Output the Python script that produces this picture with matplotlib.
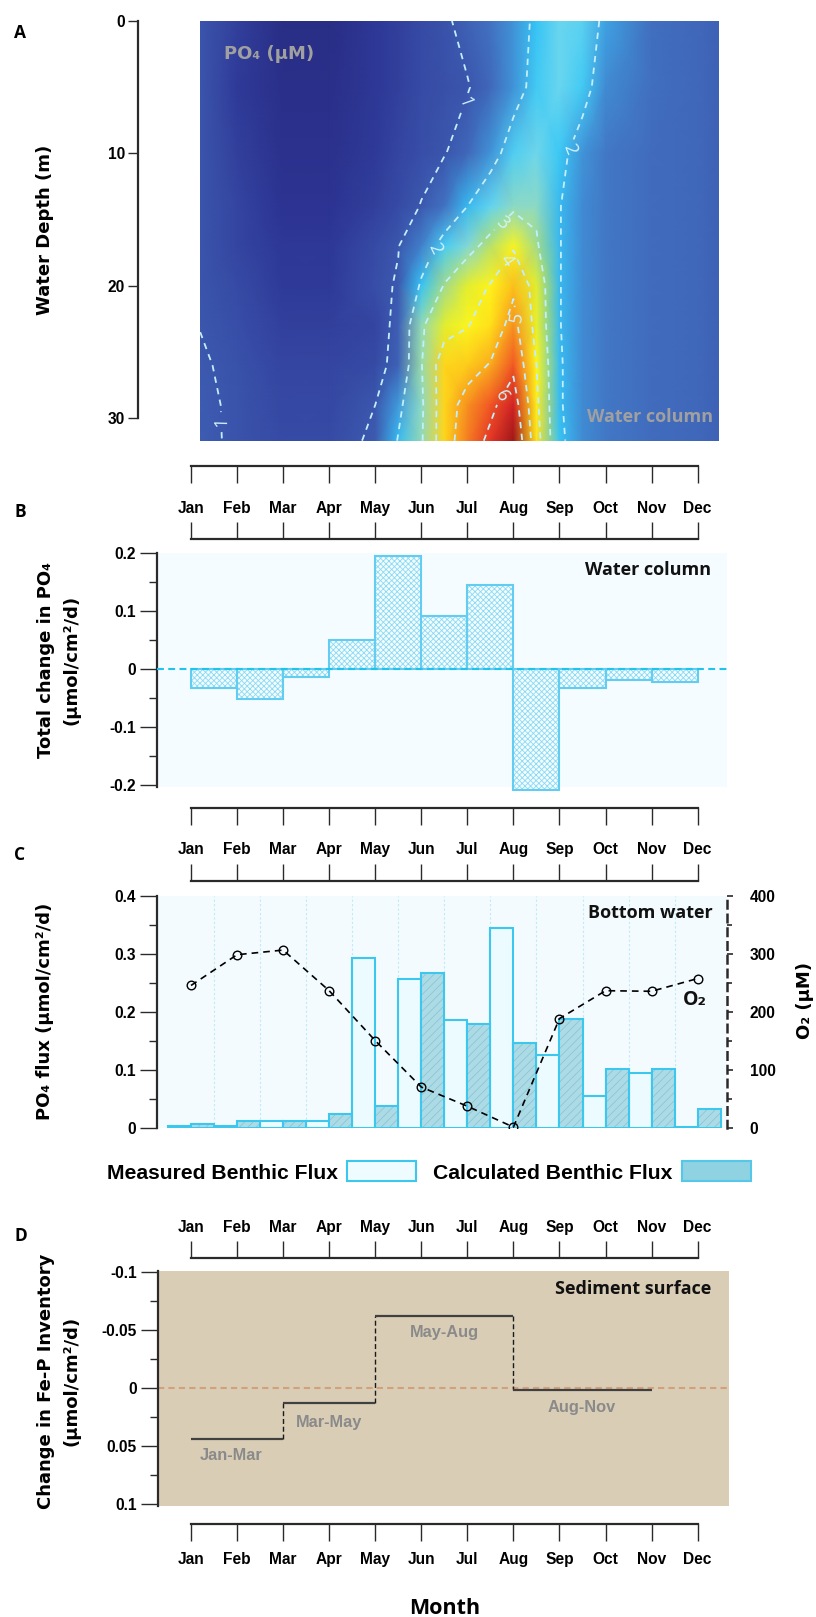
import numpy as np
import matplotlib
matplotlib.use('Agg')
import matplotlib.pyplot as plt
from matplotlib.colors import LinearSegmentedColormap, Normalize
from matplotlib.patches import Patch
from matplotlib.ticker import FixedLocator, FuncFormatter

plt.rcParams['font.family'] = ['Liberation Sans', 'DejaVu Sans']
plt.rcParams['font.weight'] = 'bold'
plt.rcParams['axes.unicode_minus'] = False
plt.rcParams['hatch.linewidth'] = 0.6

# ---------------------------------------------------------------- data
months = ['Jan', 'Feb', 'Mar', 'Apr', 'May', 'Jun', 'Jul', 'Aug', 'Sep', 'Oct', 'Nov', 'Dec']

po4_month_pos = [0.2, 1, 2, 3, 4, 4.5, 5, 5.5, 6, 6.5, 7, 7.5, 8, 8.5, 9, 10, 11, 11.46]
po4_depth_m = [0, 5, 10, 14, 17, 20, 23, 26, 29, 31.7]
po4_um = [
    [0.97, 0.70, 0.40, 0.40, 0.60, 0.70, 0.80, 0.90, 1.20, 1.50, 1.75, 2.10, 2.50, 2.40, 1.85, 1.45, 1.30, 1.20],
    [0.97, 0.65, 0.45, 0.45, 0.60, 0.70, 0.80, 0.88, 0.96, 1.30, 1.75, 2.20, 2.50, 2.20, 1.70, 1.45, 1.30, 1.20],
    [0.97, 0.70, 0.50, 0.50, 0.65, 0.75, 0.85, 0.97, 1.30, 1.75, 2.30, 2.55, 2.15, 1.75, 1.55, 1.40, 1.30, 1.20],
    [0.97, 0.75, 0.55, 0.55, 0.70, 0.80, 1.02, 1.50, 2.00, 2.45, 2.85, 2.85, 2.02, 1.70, 1.55, 1.40, 1.30, 1.20],
    [0.97, 0.75, 0.60, 0.60, 0.80, 0.98, 1.60, 2.25, 2.75, 3.25, 3.90, 3.10, 2.02, 1.70, 1.55, 1.40, 1.30, 1.20],
    [0.97, 0.80, 0.65, 0.65, 0.85, 1.05, 2.10, 3.05, 3.60, 4.05, 4.85, 3.60, 2.02, 1.70, 1.55, 1.40, 1.30, 1.20],
    [0.99, 0.85, 0.70, 0.70, 0.75, 1.15, 2.90, 3.60, 3.95, 4.50, 5.30, 3.70, 2.02, 1.70, 1.55, 1.40, 1.30, 1.20],
    [1.05, 0.90, 0.75, 0.75, 0.80, 1.20, 2.95, 4.60, 4.70, 5.05, 5.80, 4.00, 2.05, 1.70, 1.55, 1.40, 1.30, 1.20],
    [1.10, 0.92, 0.78, 0.78, 1.00, 1.80, 2.85, 4.60, 5.30, 5.80, 6.50, 4.20, 2.05, 1.70, 1.55, 1.40, 1.30, 1.20],
    [1.10, 0.93, 0.80, 0.80, 1.08, 2.05, 2.90, 4.60, 5.50, 6.20, 7.00, 4.40, 2.10, 1.70, 1.55, 1.40, 1.30, 1.20],
]
po4_levels = [1, 2, 3, 4, 5, 6]
depth_ticks = [0, 10, 20, 30]

# Panel B: total change in water-column PO4 for each interval (Jan-Feb ... Nov-Dec)
wc_change = [-0.033, -0.052, -0.014, 0.050, 0.196, 0.092, 0.145, -0.209, -0.032, -0.018, -0.023]
b_yticks = [-0.2, -0.1, 0, 0.1, 0.2]
b_yminor = [-0.15, -0.05, 0.05, 0.15]

# Panel C: benthic PO4 fluxes and bottom-water O2
flux_measured = [0.0035, 0.003, 0.011, 0.011, 0.293, 0.257, 0.186, 0.344, 0.125, 0.054, 0.095, 0.001]
flux_calculated = [0.007, 0.012, 0.011, 0.024, 0.037, 0.266, 0.178, 0.146, 0.187, 0.101, 0.101, 0.032]
o2_um = [245, 298, 306, 236, 150, 70, 37, 1, 188, 236, 235, 257]
c_yticks = [0, 0.1, 0.2, 0.3, 0.4]
c_yminor = [0.05, 0.15, 0.25, 0.35]
o2_ticks = [0, 100, 200, 300, 400]
o2_minor = [50, 150, 250, 350]

# Panel D: change in Fe-P inventory per period
fep_periods = ['Jan-Mar', 'Mar-May', 'May-Aug', 'Aug-Nov']
fep_start = [0, 2, 4, 7]
fep_end = [2, 4, 7, 10]
fep_change = [0.0437, 0.0129, -0.0623, 0.002]
d_yticks = [-0.1, -0.05, 0, 0.05, 0.1]
d_yminor = [-0.075, -0.025, 0.025, 0.075]

# ---------------------------------------------------------------- layout helpers
W, H = 816, 1617
fig = plt.figure(figsize=(W / 100, H / 100), dpi=100)

def add_ax(l, t, r, b):
    return fig.add_axes([l / W, 1 - b / H, (r - l) / W, (b - t) / H])

M0, MPX = 191.0, 46.06          # pixel of Jan, pixels per month
def xl(l, r):
    return ((l - M0) / MPX, (r - M0) / MPX)

PX = 0.72
SPINE = '#2a2a2a'
TICKFS = 11.2
fmt_g = FuncFormatter(lambda v, p: f'{v:g}')
REGION_FONT = ['Open Sans', 'DejaVu Sans']

def left_axis(ax, major, minor):
    for s in ('top', 'right', 'bottom'):
        ax.spines[s].set_visible(False)
    ax.spines['left'].set_linewidth(1.6)
    ax.spines['left'].set_color(SPINE)
    ax.yaxis.set_major_locator(FixedLocator(major))
    ax.yaxis.set_minor_locator(FixedLocator(minor))
    ax.yaxis.set_major_formatter(fmt_g)
    ax.set_xticks([])
    ax.tick_params(axis='y', which='major', length=17 * PX, width=1.0, color=SPINE,
                   labelsize=TICKFS, pad=3)
    ax.tick_params(axis='y', which='minor', length=8 * PX, width=1.0, color=SPINE)

def ylabel(ax, text, px, py, L, T, R, B, ls=1.5):
    ax.set_ylabel(text, fontfamily='DejaVu Sans', fontsize=13, fontweight='bold',
                  va='center', ha='center', linespacing=ls)
    ax.yaxis.set_label_coords((px - L) / (R - L), (B - py) / (B - T))

def ruler(y, up, labels, pad=4.5):
    side = 'top' if up else 'bottom'
    ax = add_ax(157, y, 727, y + 1) if up else add_ax(157, y - 1, 727, y)
    ax.set_xlim(*xl(157, 727))
    ax.set_ylim(0, 1)
    ax.patch.set_visible(False)
    for s in ax.spines.values():
        s.set_visible(False)
    sp = ax.spines[side]
    sp.set_visible(True)
    sp.set_bounds(0, len(months) - 1)
    sp.set_linewidth(1.6)
    sp.set_color(SPINE)
    ax.set_yticks([])
    ax.set_xticks(range(len(months)))
    ax.set_xticklabels(months if labels else [''] * len(months))
    ax.tick_params(axis='x', direction='out', length=17 * PX, width=1.0, color=SPINE,
                   labelsize=TICKFS, pad=pad,
                   top=up, labeltop=up and labels, bottom=not up, labelbottom=(not up) and labels)
    return ax

# ---------------------------------------------------------------- panel A
stops = [(0.3, '#272b7f'), (0.55, '#2c3392'), (0.8, '#374ca6'), (1.0, '#3c58ae'),
         (1.5, '#4272c2'), (1.85, '#3fa3e3'), (2.1, '#36c6f6'), (2.5, '#6ad6ef'),
         (2.8, '#88d8d0'), (3.1, '#a6dc84'), (3.6, '#e2ee30'), (4.0, '#fff61a'),
         (4.5, '#ffe01a'), (5.0, '#fbb01d'), (5.5, '#f57d22'), (6.0, '#ee4026'),
         (6.5, '#d52226'), (7.2, '#8a1316')]
cmap = LinearSegmentedColormap.from_list('po4', [((v - 0.3) / 6.9, c) for v, c in stops])

A_L, A_T, A_R, A_B = 200.3, 21, 719, 440.7
axA = add_ax(A_L, A_T, A_R, A_B)
Xg, Yg = np.meshgrid(po4_month_pos, po4_depth_m)
Zg = np.array(po4_um)
axA.pcolormesh(Xg, Yg, Zg, shading='gouraud', cmap=cmap, norm=Normalize(0.3, 7.2), rasterized=True)
cs = axA.contour(Xg, Yg, Zg, levels=po4_levels, colors='#c3eefb', linewidths=1.3)
cs.set_linestyle((0, (3.5, 3)))
label_pos = [(5.98, 6.2), (0.62, 30.3), (5.36, 17.3), (8.19, 9.6), (6.9, 15.8),
             (6.95, 18.3), (6.99, 22.4), (6.88, 28.6)]
clabels = axA.clabel(cs, fmt='%d', fontsize=13, colors='#d2f3fc', inline=True, manual=label_pos)
for t in clabels:
    t.set_fontweight('normal')
    t.set_family(REGION_FONT)
axA.set_xlim(*xl(A_L, A_R))
axA.set_ylim(31.7, 0)
for s in ('top', 'right', 'bottom'):
    axA.spines[s].set_visible(False)
axA.spines['left'].set_position(('outward', 45))
axA.spines['left'].set_bounds(0, 30)
axA.spines['left'].set_linewidth(1.6)
axA.spines['left'].set_color(SPINE)
axA.set_yticks(depth_ticks)
axA.set_xticks([])
axA.tick_params(axis='y', length=10 * PX, width=1.0, color=SPINE, labelsize=TICKFS, pad=2)
ylabel(axA, 'Water Depth (m)', 45, 230, A_L, A_T, A_R, A_B)
axA.text(0.046, 0.922, 'PO₄ (µM)', transform=axA.transAxes, color='#a0a0a0',
         fontfamily='DejaVu Sans', fontsize=13, fontweight='bold', ha='left', va='center')
axA.text(0.988, 0.056, 'Water column', transform=axA.transAxes, color='#a0a0a0',
         fontfamily=REGION_FONT, fontsize=13, fontweight='bold', ha='right', va='center')

# ---------------------------------------------------------------- rulers
ruler(466, False, False)
ruler(539, True, True, pad=4.4)
ruler(808, False, False)
ruler(881, True, True, pad=5.1)
ruler(1258, True, True, pad=4.4)
ruler(1524, False, True, pad=7.7)

# ---------------------------------------------------------------- panel B
B_L, B_T, B_R, B_B = 157, 552.7, 727, 786.7
axB = add_ax(B_L, B_T, B_R, B_B)
axB.set_facecolor('#f5fcff')
xb = np.arange(len(wc_change))
axB.bar(xb, wc_change, width=1, align='edge', color='#f4fcff', edgecolor='#8adaf4',
        hatch='xxxxxx', linewidth=0, clip_on=False, zorder=2)
axB.bar(xb, wc_change, width=1, align='edge', fill=False, edgecolor='#62cdf0',
        linewidth=1.5, clip_on=False, zorder=3)
axB.axhline(0, color='#1fc3ee', lw=1.5, ls=(0, (3.3, 2.1)), zorder=4)
axB.set_xlim(*xl(B_L, B_R))
axB.set_ylim(-0.203, 0.201)
left_axis(axB, b_yticks, b_yminor)
ylabel(axB, 'Total change in PO₄\n(µmol/cm²/d)', 58.5, 660, B_L, B_T, B_R, B_B)
axB.text(0.973, 0.926, 'Water column', transform=axB.transAxes, fontfamily=REGION_FONT,
         fontsize=13, fontweight='bold', ha='right', va='center', color='#111111')

# ---------------------------------------------------------------- panel C
C_L, C_T, C_R, C_B = 157, 895.5, 727, 1127.7
axC = add_ax(C_L, C_T, C_R, C_B)
axC.set_facecolor('#f3fbfe')
xc = np.arange(len(months))
for xv in xc[:-1] + 0.5:
    axC.axvline(xv, color='#bfeaf7', lw=0.8, ls=(0, (2, 2)), zorder=0.5)
axC.bar(xc - 0.5, flux_measured, width=0.5, align='edge', facecolor='#ecfbff',
        edgecolor='#3cc8ee', linewidth=1.5, zorder=2)
axC.bar(xc, flux_calculated, width=0.5, align='edge', facecolor='#acdbe6',
        edgecolor='#8ac6d5', hatch='////', linewidth=0, zorder=2)
axC.bar(xc, flux_calculated, width=0.5, align='edge', fill=False,
        edgecolor='#3cc8ee', linewidth=1.5, zorder=3)
axC.set_xlim(*xl(C_L, C_R))
axC.set_ylim(0, 0.4)
left_axis(axC, c_yticks, c_yminor)
ylabel(axC, 'PO₄ flux (µmol/cm²/d)', 45.5, 1011.5, C_L, C_T, C_R, C_B)
axC.text(0.975, 0.924, 'Bottom water', transform=axC.transAxes, fontfamily=REGION_FONT,
         fontsize=13, fontweight='bold', ha='right', va='center', color='#111111')

axO = axC.twinx()
axO.plot(xc, o2_um, ls=(0, (4, 3)), color='black', lw=1.2, marker='o', ms=6.2,
         mfc='none', mec='black', mew=1.0, zorder=5)
axO.set_ylim(0, 400)
axO.set_xlim(*xl(C_L, C_R))
for s in ('top', 'left', 'bottom'):
    axO.spines[s].set_visible(False)
axO.spines['right'].set_linestyle((0, (3, 2.5)))
axO.spines['right'].set_linewidth(1.8)
axO.spines['right'].set_color(SPINE)
axO.spines['right'].set_bounds(0, 400)
axO.yaxis.set_major_locator(FixedLocator(o2_ticks))
axO.yaxis.set_minor_locator(FixedLocator(o2_minor))
axO.yaxis.set_major_formatter(fmt_g)
axO.tick_params(axis='y', which='major', length=6 * PX, width=1.2, color=SPINE,
                labelsize=TICKFS, pad=12)
axO.tick_params(axis='y', which='minor', length=5 * PX, width=1.2, color=SPINE)
axO.set_ylabel('O₂ (µM)', fontfamily='DejaVu Sans', fontsize=13, fontweight='bold',
               rotation=90, va='center', ha='center')
axO.yaxis.set_label_coords((805 - C_L) / (C_R - C_L), (C_B - 1000) / (C_B - C_T))
axO.text((683 - C_L) / (C_R - C_L), (C_B - 1000) / (C_B - C_T), 'O₂', transform=axO.transAxes,
         fontfamily=REGION_FONT, fontsize=14, fontweight='bold', ha='left', va='center',
         color='#111111')

# legend
handles = [Patch(facecolor='#effcff', edgecolor='#3cc8ee', linewidth=1.5),
           Patch(facecolor='#8fd2e2', edgecolor='#55c8ea', linewidth=1.5)]
fig.legend(handles, ['Measured Benthic Flux', 'Calculated Benthic Flux'], ncol=2,
           markerfirst=False, frameon=False, prop={'size': 15.2, 'weight': 'bold'},
           handlelength=3.3, handleheight=1.07, handletextpad=0.43, columnspacing=0.8,
           loc='center left', bbox_to_anchor=(106.7 / W, 1 - 1172 / H),
           borderpad=0, borderaxespad=0)

# ---------------------------------------------------------------- panel D
D_L, D_T, D_R, D_B = 158, 1271, 729.3, 1506
axD = add_ax(D_L, D_T, D_R, D_B)
axD.set_facecolor('#d9cdb6')
axD.axhline(0, color='#d3a07b', lw=1.5, ls=(0, (3, 2)), zorder=1)
axD.hlines(fep_change, fep_start, fep_end, colors='#404040', lw=1.6, zorder=3)
axD.vlines(fep_start[1:], fep_change[:-1], fep_change[1:], colors='#1a1a1a', lw=1.0,
           linestyles=[(0, (3.6, 2))], zorder=2)
label_xy = [(0.87, 0.058), (3.0, 0.0294), (5.5, -0.0477), (8.49, 0.0171)]
for name, (lx, ly) in zip(fep_periods, label_xy):
    axD.text(lx, ly, name, color='#8a8a8a', fontsize=11.8, fontweight='bold',
             ha='center', va='center')
axD.set_xlim(*xl(D_L, D_R))
axD.set_ylim(0.1015, -0.1006)
left_axis(axD, d_yticks, d_yminor)
ylabel(axD, 'Change in Fe-P Inventory\n(µmol/cm²/d)', 58.5, 1381, D_L, D_T, D_R, D_B)
axD.text(0.968, 0.922, 'Sediment surface', transform=axD.transAxes, fontfamily=REGION_FONT,
         fontsize=13, fontweight='bold', ha='right', va='center', color='#111111')

# ---------------------------------------------------------------- panel letters & Month
for letter, py in zip('ABCD', [33, 512, 855, 1236]):
    fig.text(14 / W, 1 - py / H, letter, fontfamily=REGION_FONT, fontsize=12.5,
             fontweight='bold', ha='left', va='center')
fig.text(444.5 / W, 1 - 1608 / H, 'Month', fontfamily=REGION_FONT, fontsize=15.5,
         fontweight='bold', ha='center', va='center')

fig.savefig('out.png', dpi=100)
